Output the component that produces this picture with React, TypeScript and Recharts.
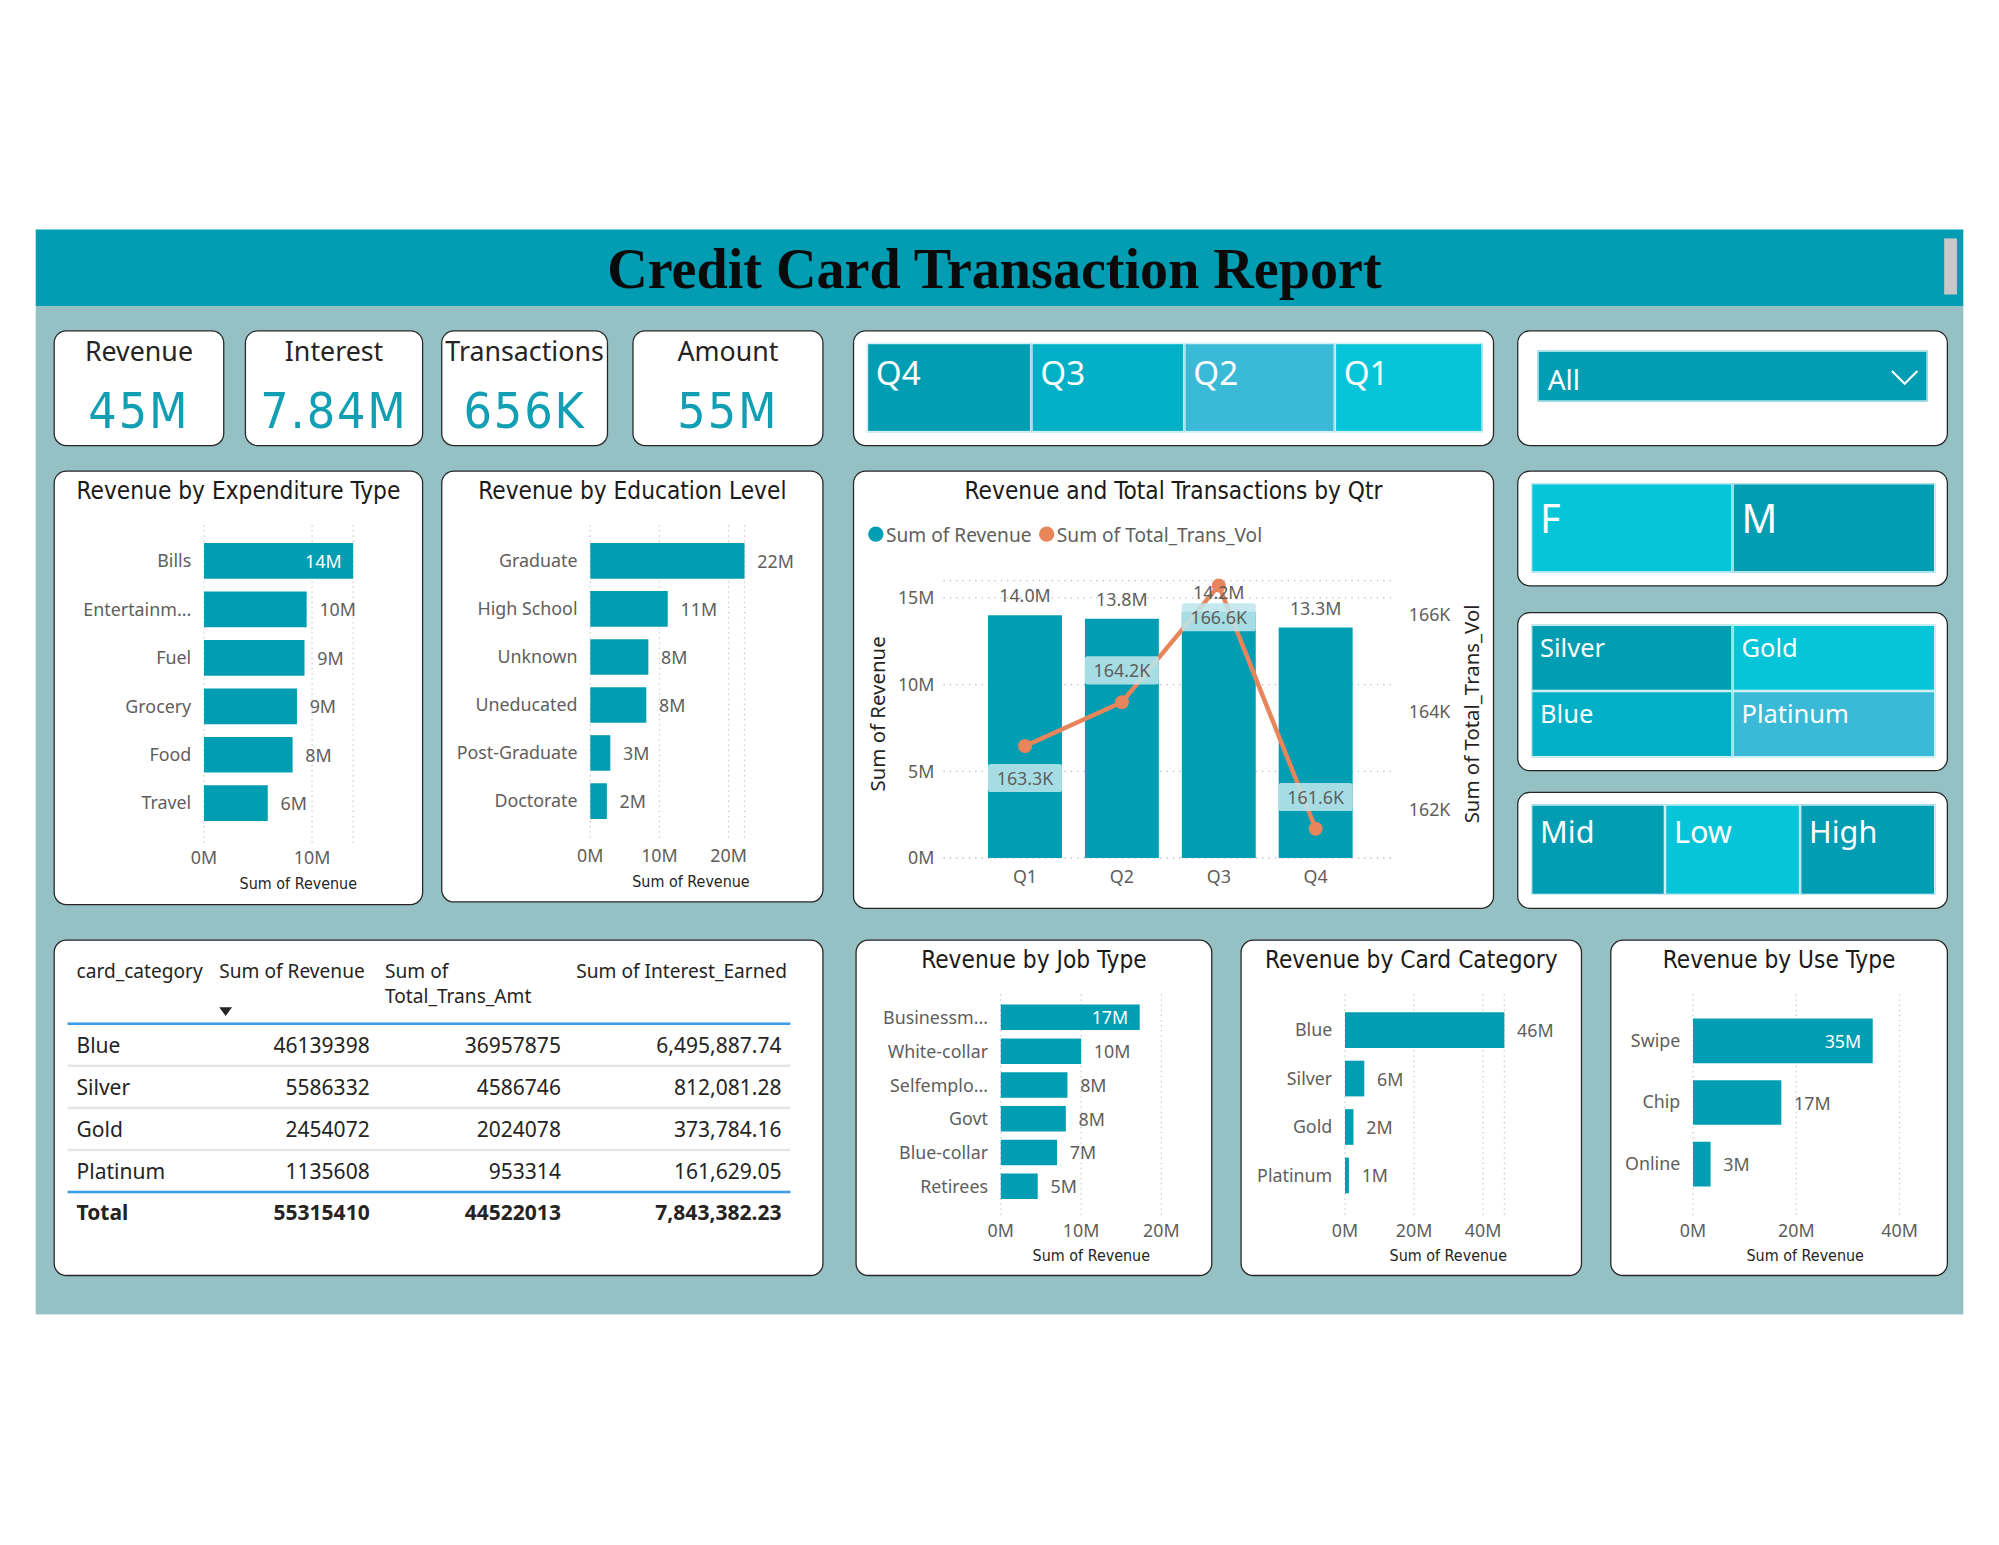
import React from "react"
import { Bar, BarChart, CartesianGrid, ComposedChart, LabelList, Line, XAxis, YAxis } from "recharts"

// page is laid out at 1568x1212 and scaled up to the 1999px window
const SCALE = 1999 / 1568

const TEAL = "#019db3"
const CYAN = "#06c5d8"
const MID = "#01b0c7"
const SKY = "#3bbad7"
const ORANGE = "#e8855b"
const GREY = "#605e5c"
const DARK = "#252423"
const UI = '"Segoe UI", "Noto Sans", "Open Sans", sans-serif'
const DIN = '"DIN", "DejaVu Sans Condensed", "Liberation Sans Narrow", "DejaVu Sans", sans-serif'

const kpiLabels = ["Revenue", "Interest", "Transactions", "Amount"]
const kpiValues = ["45M", "7.84M", "656K", "55M"]

const quarterSlicer = ["Q4", "Q3", "Q2", "Q1"]
const genderSlicer = ["F", "M"]
const cardSlicer = ["Silver", "Gold", "Blue", "Platinum"]
const incomeSlicer = ["Mid", "Low", "High"]

const expenditureTypes = ["Bills", "Entertainm...", "Fuel", "Grocery", "Food", "Travel"]
const expenditureRevenue = [13.8e6, 9.5e6, 9.3e6, 8.6e6, 8.2e6, 5.9e6]

const educationLevels = ["Graduate", "High School", "Unknown", "Uneducated", "Post-Graduate", "Doctorate"]
const educationRevenue = [22.3e6, 11.2e6, 8.4e6, 8.1e6, 2.9e6, 2.4e6]

const quarters = ["Q1", "Q2", "Q3", "Q4"]
const quarterRevenue = [14.0e6, 13.8e6, 14.2e6, 13.3e6]
const quarterTransVol = [163300, 164200, 166600, 161600]

const jobTypes = ["Businessm...", "White-collar", "Selfemplo...", "Govt", "Blue-collar", "Retirees"]
const jobRevenue = [17.3e6, 10.0e6, 8.3e6, 8.1e6, 7.0e6, 4.6e6]

const cardCategories = ["Blue", "Silver", "Gold", "Platinum"]
const cardRevenue = [46139398, 5586332, 2454072, 1135608]
const cardTransAmt = [36957875, 4586746, 2024078, 953314]
const cardInterest = [6495887.74, 812081.28, 373784.16, 161629.05]

const useTypes = ["Swipe", "Chip", "Online"]
const useRevenue = [34.8e6, 17.1e6, 3.4e6]

const fmtAxisM = (v: number) => `${Math.round(v / 1e6)}M`
const fmt1M = (v: number) => `${(v / 1e6).toFixed(1)}M`
const fmt1K = (v: number) => `${(v / 1000).toFixed(1)}K`
const fmtInt = (v: number) => v.toFixed(0)
const fmtMoney = (v: number) =>
  v.toLocaleString("en-US", { minimumFractionDigits: 2, maximumFractionDigits: 2 })
const sum = (a: number[]) => a.reduce((s, v) => s + v, 0)

function Txt({ x, y, children, size = 14, color = DARK, weight = 400, anchor = "start", font = UI, rotate = false, spacing = 0 }: any) {
  const tx = anchor === "middle" ? "-50%" : anchor === "end" ? "-100%" : "0"
  return (
    <div
      style={{
        position: "absolute",
        left: x,
        top: y,
        transform: rotate ? "translate(-50%, -50%) rotate(-90deg)" : `translate(${tx}, -50%)`,
        fontSize: size,
        color,
        fontWeight: weight,
        fontFamily: font,
        letterSpacing: spacing,
        whiteSpace: "nowrap",
        lineHeight: 1.2,
      }}
    >
      {children}
    </div>
  )
}

function Card({ x, y, w, h }: any) {
  return (
    <div
      style={{
        position: "absolute",
        left: x,
        top: y,
        width: w,
        height: h,
        background: "#fff",
        border: "1.6px solid #262626",
        borderRadius: 10,
        boxSizing: "border-box",
      }}
    />
  )
}

function Tile({ x0, x1, y0, y1, color, label, size }: any) {
  return (
    <div
      style={{
        position: "absolute",
        left: x0,
        top: y0,
        width: x1 - x0,
        height: y1 - y0,
        background: color,
        boxSizing: "border-box",
        border: "1px solid #d2f0f4",
        color: "#fff",
        fontFamily: UI,
        fontSize: size,
        lineHeight: 1,
        paddingLeft: 6,
        paddingTop: size * 0.35,
      }}
    >
      {label}
    </div>
  )
}

const barLabel = (insideIndex: number) => (props: any) => {
  const { x, y, width, height, value, index } = props
  const inside = index === insideIndex
  return (
    <text
      x={inside ? x + width - 9 : x + width + 10}
      y={y + height / 2}
      textAnchor={inside ? "end" : "start"}
      dominantBaseline="central"
      fill={inside ? "#fff" : GREY}
      fontSize={14}
      fontFamily={UI}
    >
      {fmtAxisM(value)}
    </text>
  )
}

type HBarProps = {
  x: number; y: number; w: number; h: number; title: string
  cats: string[]; vals: number[]; max: number; ticks: number[]
  zeroX: number; endX: number; bandTop: number; bandBottom: number
  gridTop: number; gridBottom: number
  barSize: number; tickY: number; axisX: number; axisY: number; insideIndex: number
}

function HBarPanel(p: HBarProps) {
  const data = p.cats.map((name, i) => ({ name, value: p.vals[i] }))
  const lz = p.zeroX - p.x
  const le = p.endX - p.x
  const gt = p.gridTop - p.y
  const gb = p.gridBottom - p.y
  return (
    <>
      <Card x={p.x} y={p.y} w={p.w} h={p.h} />
      <Txt x={p.x + p.w / 2} y={p.y + 16} size={19} font={DIN} color="#1b1a19" anchor="middle">{p.title}</Txt>
      <div style={{ position: "absolute", left: p.x, top: p.y }}>
        <BarChart
          width={p.w}
          height={p.h}
          layout="vertical"
          data={data}
          margin={{ top: gt, right: p.w - le, bottom: p.h - gb - 30, left: 0 }}
        >
          <CartesianGrid horizontal={false} strokeDasharray="1 3" stroke="#c8c6c4" />
          <XAxis
            type="number"
            domain={[0, p.max]}
            ticks={p.ticks}
            interval={0}
            tickFormatter={fmtAxisM}
            axisLine={false}
            tickLine={false}
            tickSize={0}
            tickMargin={p.tickY - p.gridBottom - 5}
            height={30}
            tick={{ fill: GREY, fontSize: 14, fontFamily: UI }}
          />
          <YAxis
            type="category"
            dataKey="name"
            width={lz}
            interval={0}
            padding={{ top: p.bandTop - p.gridTop, bottom: p.gridBottom - p.bandBottom }}
            axisLine={false}
            tickLine={false}
            tickSize={0}
            tickMargin={10}
            tick={{ fill: GREY, fontSize: 14, fontFamily: UI }}
          />
          <Bar dataKey="value" fill={TEAL} barSize={p.barSize} isAnimationActive={false}>
            <LabelList dataKey="value" content={barLabel(p.insideIndex)} />
          </Bar>
        </BarChart>
      </div>
      <Txt x={p.axisX} y={p.axisY} size={12.5} font={DIN} anchor="middle">Sum of Revenue</Txt>
    </>
  )
}

// placement of the line labels (below / above the point)
const lineLabelSide = [1, -1, 1, -1]

function lineLabel(props: any) {
  const { x, y, value, index } = props
  const cy = y + lineLabelSide[index] * 25
  return (
    <g>
      <rect x={x - 29} y={cy - 11} width={58} height={22} rx={2} fill="#bde6ec" fillOpacity={0.88} />
      <text x={x} y={cy} textAnchor="middle" dominantBaseline="central" fill={GREY} fontSize={14} fontFamily={UI}>
        {fmt1K(value)}
      </text>
    </g>
  )
}

function QuarterPanel() {
  const x = 669, y = 369, w = 503, h = 344
  const data = quarters.map((q, i) => ({ q, revenue: quarterRevenue[i], vol: quarterTransVol[i] }))
  const plotTop = 455.4 - y
  const plotBottom = 673 - y
  const plotLeft = 740 - x
  const plotRight = 1095 - x
  return (
    <>
      <Card x={x} y={y} w={w} h={h} />
      <Txt x={x + w / 2} y={385} size={19} font={DIN} color="#1b1a19" anchor="middle">Revenue and Total Transactions by Qtr</Txt>
      <div style={{ position: "absolute", left: 681, top: 413, width: 12, height: 12, borderRadius: 6, background: TEAL }} />
      <Txt x={695} y={419} size={15} color={GREY}>Sum of Revenue</Txt>
      <div style={{ position: "absolute", left: 815, top: 413, width: 12, height: 12, borderRadius: 6, background: ORANGE }} />
      <Txt x={829} y={419} size={15} color={GREY}>Sum of Total_Trans_Vol</Txt>
      <div style={{ position: "absolute", left: x, top: y }}>
        <ComposedChart
          width={w}
          height={h}
          data={data}
          barCategoryGap={18}
          margin={{ top: plotTop, right: 0, bottom: h - plotBottom - 30, left: 0 }}
        >
          <CartesianGrid vertical={false} yAxisId="rev" strokeDasharray="1 4" stroke="#b9b9b9" />
          <XAxis
            dataKey="q"
            padding={{ left: 766 - 740, right: 1095 - 1070 }}
            axisLine={false}
            tickLine={false}
            tickSize={0}
            tickMargin={10}
            height={30}
            tick={{ fill: GREY, fontSize: 14, fontFamily: UI }}
          />
          <YAxis
            yAxisId="rev"
            width={plotLeft}
            domain={[0, 16e6]}
            ticks={[0, 5e6, 10e6, 15e6]}
            interval={0}
            tickFormatter={fmtAxisM}
            axisLine={false}
            tickLine={false}
            tickSize={0}
            tickMargin={plotLeft - 64}
            tick={{ fill: GREY, fontSize: 14, fontFamily: UI }}
          />
          <YAxis
            yAxisId="vol"
            orientation="right"
            width={w - plotRight}
            domain={[161000, 166700]}
            ticks={[162000, 164000, 166000]}
            interval={0}
            tickFormatter={(v: number) => `${v / 1000}K`}
            axisLine={false}
            tickLine={false}
            tickSize={0}
            tickMargin={436 - plotRight}
            tick={{ fill: GREY, fontSize: 14, fontFamily: UI }}
          />
          <Bar yAxisId="rev" dataKey="revenue" fill={TEAL} barSize={58} isAnimationActive={false}>
            <LabelList dataKey="revenue" position="top" offset={10} formatter={fmt1M} fill={GREY} fontSize={14} fontFamily={UI} />
          </Bar>
          <Line
            yAxisId="vol"
            dataKey="vol"
            type="linear"
            stroke={ORANGE}
            strokeWidth={3.5}
            dot={{ r: 5, fill: ORANGE, stroke: ORANGE, strokeWidth: 1 }}
            isAnimationActive={false}
          >
            <LabelList dataKey="vol" content={lineLabel} />
          </Line>
        </ComposedChart>
      </div>
      <Txt x={689} y={560} size={16} rotate>Sum of Revenue</Txt>
      <Txt x={1155} y={560} size={16} rotate>Sum of Total_Trans_Vol</Txt>
    </>
  )
}

function TablePanel() {
  const x = 42, y = 737, w = 604, h = 264
  const rowY = [820, 853, 886, 919]
  const rights = [290, 440, 613]
  const rows = cardCategories.map((c, i) => [c, fmtInt(cardRevenue[i]), fmtInt(cardTransAmt[i]), fmtMoney(cardInterest[i])])
  const total = ["Total", fmtInt(sum(cardRevenue)), fmtInt(sum(cardTransAmt)), fmtMoney(sum(cardInterest))]
  return (
    <>
      <Card x={x} y={y} w={w} h={h} />
      <Txt x={60} y={761} size={15}>card_category</Txt>
      <Txt x={172} y={761} size={15}>Sum of Revenue</Txt>
      <Txt x={302} y={761} size={15}>Sum of</Txt>
      <Txt x={302} y={781} size={15}>Total_Trans_Amt</Txt>
      <Txt x={452} y={761} size={15}>Sum of Interest_Earned</Txt>
      <div style={{ position: "absolute", left: 172, top: 790, width: 0, height: 0, borderLeft: "5px solid transparent", borderRight: "5px solid transparent", borderTop: "7px solid #252423" }} />
      <div style={{ position: "absolute", left: 53, top: 802, width: 567, height: 2, background: "#3d9de8" }} />
      {[836, 869, 902].map((ly) => (
        <div key={ly} style={{ position: "absolute", left: 53, top: ly - 1, width: 567, height: 2, background: "#e6e6e6" }} />
      ))}
      <div style={{ position: "absolute", left: 53, top: 934, width: 567, height: 2, background: "#3d9de8" }} />
      {rows.map((r, i) => (
        <React.Fragment key={r[0]}>
          <Txt x={60} y={rowY[i]} size={16.5}>{r[0]}</Txt>
          {rights.map((rx, j) => (
            <Txt key={rx} x={rx} y={rowY[i]} size={16.5} anchor="end">{r[j + 1]}</Txt>
          ))}
        </React.Fragment>
      ))}
      <Txt x={60} y={951} size={16.5} weight={700}>{total[0]}</Txt>
      {rights.map((rx, j) => (
        <Txt key={rx} x={rx} y={951} size={16.5} weight={700} anchor="end">{total[j + 1]}</Txt>
      ))}
    </>
  )
}

function KpiCards() {
  const boxes = [[42, 176], [192, 332], [346, 477], [496, 646]]
  return (
    <>
      {boxes.map(([x0, x1], i) => (
        <React.Fragment key={i}>
          <Card x={x0} y={259} w={x1 - x0} h={91} />
          <Txt x={(x0 + x1) / 2} y={276} size={21} anchor="middle">{kpiLabels[i]}</Txt>
          <Txt x={(x0 + x1) / 2} y={323} size={39} anchor="middle" color="#129fb4" font={DIN} spacing={1.5}>
            {kpiValues[i]}
          </Txt>
        </React.Fragment>
      ))}
    </>
  )
}

function Slicers() {
  const qEdges = [680, 809, 929, 1047, 1163]
  const qColors = [TEAL, MID, SKY, CYAN]
  const gColors = [CYAN, TEAL]
  const cColors = [TEAL, CYAN, MID, SKY]
  const iEdges = [1201, 1306, 1412, 1518]
  const iColors = [TEAL, CYAN, TEAL]
  return (
    <>
      <Card x={669} y={259} w={503} h={91} />
      {quarterSlicer.map((q, i) => (
        <Tile key={q} x0={qEdges[i]} x1={qEdges[i + 1]} y0={269} y1={339} color={qColors[i]} label={q} size={26} />
      ))}
      <Card x={1190} y={259} w={338} h={91} />
      <div style={{ position: "absolute", left: 1206, top: 275, width: 306, height: 40, background: TEAL, border: "1.5px solid #c4ebf1", boxSizing: "border-box" }} />
      <Txt x={1214} y={297} size={22} color="#fff">All</Txt>
      <svg style={{ position: "absolute", left: 1482, top: 288 }} width={24} height={16}>
        <polyline points="2,3 12,13 22,3" fill="none" stroke="#fff" strokeWidth={1.6} />
      </svg>
      <Card x={1190} y={369} w={338} h={91} />
      {genderSlicer.map((g, i) => (
        <Tile key={g} x0={i ? 1359 : 1201} x1={i ? 1518 : 1359} y0={379} y1={449} color={gColors[i]} label={g} size={31} />
      ))}
      <Card x={1190} y={480} w={338} h={125} />
      {cardSlicer.map((c, i) => (
        <Tile
          key={c}
          x0={i % 2 ? 1359 : 1201}
          x1={i % 2 ? 1518 : 1359}
          y0={i < 2 ? 490 : 542}
          y1={i < 2 ? 542 : 594}
          color={cColors[i]}
          label={c}
          size={20}
        />
      ))}
      <Card x={1190} y={621} w={338} h={92} />
      {incomeSlicer.map((c, i) => (
        <Tile key={c} x0={iEdges[i]} x1={iEdges[i + 1]} y0={631} y1={702} color={iColors[i]} label={c} size={24} />
      ))}
    </>
  )
}

export default function App() {
  return (
    <div style={{ position: "fixed", left: 0, top: 0, width: 1568, height: 1212, background: "#fff", transform: `scale(${SCALE})`, transformOrigin: "0 0", overflow: "hidden" }}>
      <div style={{ position: "absolute", left: 28, top: 180, width: 1512, height: 60, background: "#029db2" }} />
      <div style={{ position: "absolute", left: 28, top: 240, width: 1512, height: 791, background: "#96c1c4" }} />
      <div style={{ position: "absolute", left: 1525, top: 187, width: 10, height: 44, background: "#c8c8c8" }} />
      <Txt x={780} y={212} size={44} weight={700} color="#0a0a0a" anchor="middle" font='"Liberation Serif", "Times New Roman", serif'>
        Credit Card Transaction Report
      </Txt>

      <KpiCards />
      <Slicers />

      <HBarPanel
        x={42} y={369} w={290} h={341} title="Revenue by Expenditure Type"
        cats={expenditureTypes} vals={expenditureRevenue} max={Math.max(...expenditureRevenue)} ticks={[0, 10e6]}
        zeroX={160} endX={277} bandTop={421} bandBottom={649} gridTop={412} gridBottom={661} barSize={28}
        tickY={673} axisX={234} axisY={693} insideIndex={0}
      />
      <HBarPanel
        x={346} y={369} w={300} h={339} title="Revenue by Education Level"
        cats={educationLevels} vals={educationRevenue} max={Math.max(...educationRevenue)} ticks={[0, 10e6, 20e6]}
        zeroX={463} endX={584} bandTop={421} bandBottom={647} gridTop={412} gridBottom={659} barSize={28}
        tickY={671} axisX={542} axisY={691} insideIndex={-1}
      />
      <QuarterPanel />

      <TablePanel />
      <HBarPanel
        x={671} y={737} w={280} h={264} title="Revenue by Job Type"
        cats={jobTypes} vals={jobRevenue} max={20e6} ticks={[0, 10e6, 20e6]}
        zeroX={785} endX={911} bandTop={785} bandBottom={944} gridTop={780} gridBottom={953} barSize={20}
        tickY={965} axisX={856} axisY={985} insideIndex={0}
      />
      <HBarPanel
        x={973} y={737} w={268} h={264} title="Revenue by Card Category"
        cats={cardCategories} vals={cardRevenue} max={Math.max(...cardRevenue)} ticks={[0, 20e6, 40e6]}
        zeroX={1055} endX={1180} bandTop={789} bandBottom={941} gridTop={780} gridBottom={953} barSize={28}
        tickY={965} axisX={1136} axisY={985} insideIndex={-1}
      />
      <HBarPanel
        x={1263} y={737} w={265} h={264} title="Revenue by Use Type"
        cats={useTypes} vals={useRevenue} max={40e6} ticks={[0, 20e6, 40e6]}
        zeroX={1328} endX={1490} bandTop={792} bandBottom={937} gridTop={780} gridBottom={953} barSize={35}
        tickY={965} axisX={1416} axisY={985} insideIndex={0}
      />
    </div>
  )
}
